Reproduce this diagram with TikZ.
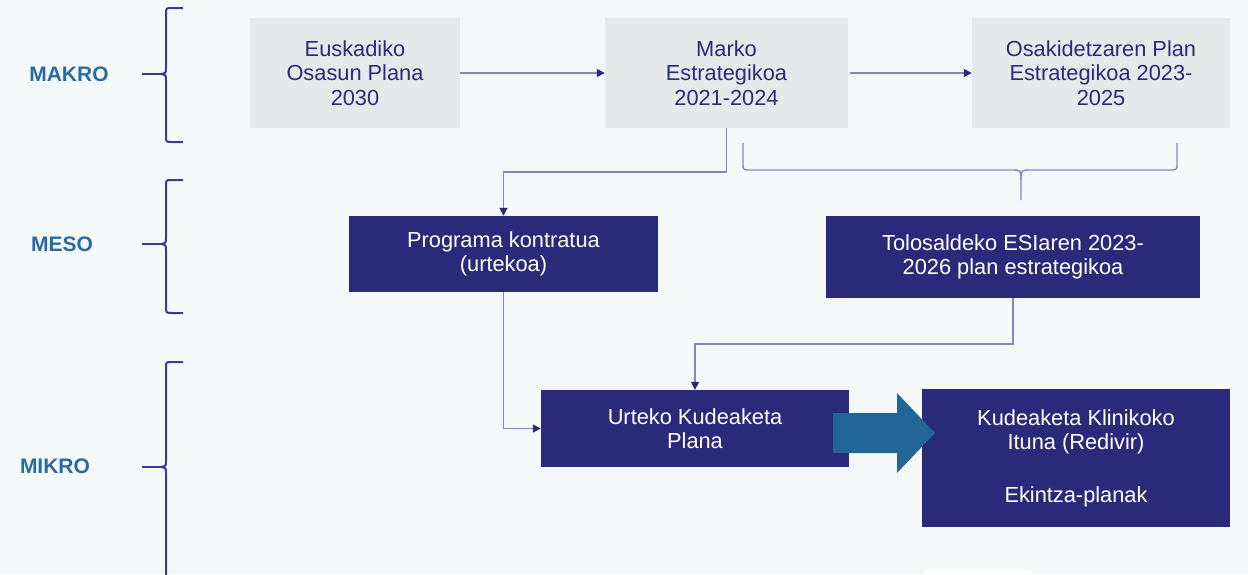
\documentclass[tikz,border=0pt]{standalone}
\usepackage{fontspec}
\setmainfont{Liberation Sans}
\usepackage{xcolor}
\usepackage{tikz}
\usetikzlibrary{arrows.meta}
\definecolor{bg}{HTML}{F4F8F9}
\definecolor{greybg}{HTML}{E5E9EA}
\definecolor{navy}{HTML}{2A2A7B}
\definecolor{linkcol}{HTML}{8585C2}
\definecolor{bracecol}{HTML}{3A3A8E}
\definecolor{lvlblue}{HTML}{2B6A9F}
\definecolor{bigarrow}{HTML}{236595}
\newcommand\boxfont{\fontsize{21.8}{24.5}\selectfont}
\tikzset{
  lvl/.style={text=lvlblue, font=\fontsize{21}{24}\selectfont\bfseries},
  greybox/.style={fill=greybg, text=navy, align=center, inner sep=0pt, font=\boxfont},
  navybox/.style={fill=navy, text=white, align=center, inner sep=0pt, font=\boxfont},
  brace/.style={draw=bracecol, line width=2pt},
  softbrace/.style={draw=linkcol, line width=1.4pt},
  link/.style={draw=linkcol, line width=1.6pt, -{Triangle[length=8pt,width=8pt,color=navy]}}
}

\begin{document}
\begin{tikzpicture}[x=1pt,y=-1pt]
  \fill[bg] (0,0) rectangle (1248,574);
  \useasboundingbox (0,0) rectangle (1248,574);

  % levels on the left
  \node[lvl] (makro) at (69,74) {MAKRO};
  \node[lvl] (meso) at (62,244) {MESO};
  \node[lvl] (mikro) at (55,466) {MIKRO};

  % left braces: top / tick / bottom
  \foreach \t/\m/\b in {8/74/142, 180/244/313, 362/467/620}{
    \draw[brace] (183,\t) -- (172,\t) .. controls (166,\t) .. (166,\t+6)
      -- (166,\m-6) .. controls (166,\m-1) .. (161,\m)
      .. controls (166,\m+1) .. (166,\m+6)
      -- (166,\b-6) .. controls (166,\b) .. (172,\b) -- (183,\b);
    \draw[brace] (142,\m) -- (161,\m);
  }

  % MAKRO row
  \node[greybox, minimum width=210pt, minimum height=110pt] (euskadi) at (355,73)
    {Euskadiko\\Osasun Plana\\2030};
  \node[greybox, minimum width=243pt, minimum height=110pt] (marko) at (726.5,73)
    {Marko\\Estrategikoa\\2021-2024};
  \node[greybox, minimum width=258pt, minimum height=110pt] (osaki) at (1101,73)
    {Osakidetzaren Plan\\Estrategikoa 2023-\\2025};

  % MESO row
  \node[navybox, minimum width=309pt, minimum height=76pt] (prog) at (503.5,254)
    {Programa kontratua\\(urtekoa)};
  \node[navybox, minimum width=374pt, minimum height=82pt] (tolo) at (1013,257)
    {Tolosaldeko ESIaren 2023-\\2026 plan estrategikoa};

  % MIKRO row
  \node[navybox, minimum width=308pt, minimum height=77pt] (urteko) at (695,428.5)
    {Urteko Kudeaketa\\Plana};
  \node[navybox, minimum width=308pt, minimum height=138pt] (klinik) at (1076,458)
    {Kudeaketa Klinikoko\\Ituna (Redivir)\\[28pt]Ekintza-planak};

  % connectors
  \draw[link] (euskadi.east) -- (marko.west);
  \draw[link, shorten <=2pt] (marko.east) -- (osaki.west);
  \draw[link] (marko.south) -- ++(0,44) -| (prog.north);
  \draw[link] (prog.south) |- (urteko.west);
  \draw[link] (tolo.south) -- ++(0,46) -| (urteko.north);

  % brace over Marko + Osakidetza
  \coordinate (bl) at (743,143);
  \coordinate (br) at (1177,143);
  \coordinate (btip) at (1021,200);
  \draw[softbrace] (bl) -- (743,163) .. controls (743,170) .. (751,170)
    -- (1011,170) .. controls (1021,170) .. (1021,180) -- (btip);
  \draw[softbrace] (1021,180) .. controls (1021,170) .. (1031,170)
    -- (1169,170) .. controls (1177,170) .. (1177,163) -- (br);

  % big arrow
  \fill[bigarrow] (833,413) -- (897,413) -- (897,393) -- (935,433)
    -- (897,473) -- (897,453) -- (833,453) -- cycle;

  \fill[white] (924,570) rectangle (1031,574);
\end{tikzpicture}
\end{document}
